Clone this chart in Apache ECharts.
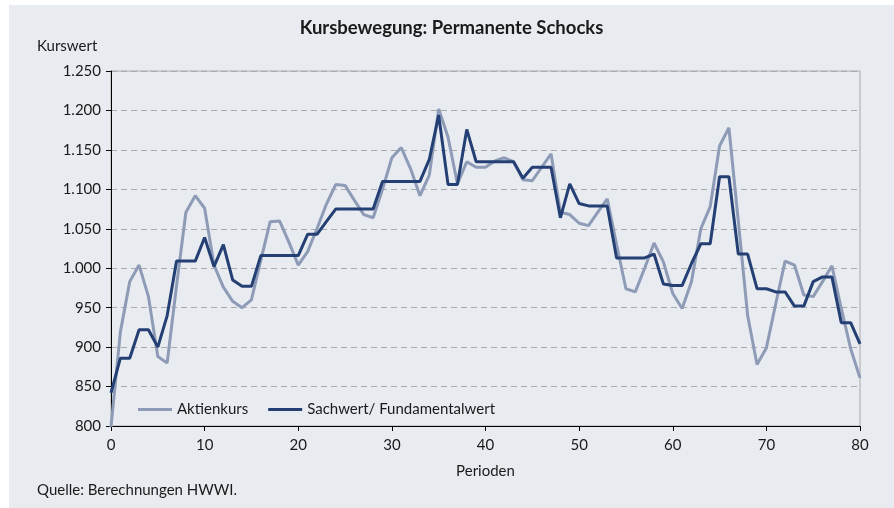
<!DOCTYPE html>
<html>
<head>
<meta charset="utf-8">
<script src="https://cdn.jsdelivr.net/npm/echarts@6/dist/echarts.min.js"></script>
<style>
  html, body { margin: 0; padding: 0; background: #ffffff; }
  #chart {
    position: absolute;
    left: 9px;
    top: 5px;
    width: 885px;
    height: 503px;
  }
</style>
</head>
<body>
<div id="chart"></div>
<script>
const periods = Array.from({ length: 81 }, (_, i) => i);

const aktienkurs = [
  799, 919, 983, 1004, 964, 888, 880, 978, 1071, 1092,
  1076, 1004, 976, 958, 950, 960, 1010, 1059, 1060, 1033,
  1004, 1021, 1050, 1081, 1106, 1105, 1086, 1068, 1064, 1100,
  1140, 1153, 1126, 1092, 1118, 1202, 1166, 1107, 1135, 1128,
  1128, 1136, 1140, 1135, 1112, 1111, 1128, 1145, 1071, 1068,
  1057, 1054, 1071, 1088, 1030, 974, 970, 1000, 1032, 1008,
  968, 949, 983, 1050, 1078, 1155, 1178, 1060, 940, 878,
  899, 955, 1009, 1004, 966, 964, 983, 1003, 949, 898,
  861,
];

const sachwert = [
  842, 886, 886, 922, 922, 900, 940, 1009, 1009, 1009,
  1039, 1002, 1030, 985, 977, 977, 1016, 1016, 1016, 1016,
  1016, 1043, 1043, 1059, 1075, 1075, 1075, 1075, 1075, 1110,
  1110, 1110, 1110, 1110, 1138, 1194, 1106, 1106, 1176, 1135,
  1135, 1135, 1135, 1135, 1114, 1128, 1128, 1128, 1064, 1107,
  1082, 1079, 1079, 1079, 1013, 1013, 1013, 1013, 1018, 980,
  978, 978, 1006, 1031, 1031, 1116, 1116, 1018, 1018, 974,
  974, 970, 970, 952, 952, 983, 989, 989, 931, 931,
  904,
];

const seriesNames = ['Aktienkurs', 'Sachwert/ Fundamentalwert'];

const font = 'Lato, "Open Sans", sans-serif';
const textColor = '#1a1a1a';

// 1250 -> "1.250"
const deNumber = (v) => String(v).replace(/\B(?=(\d{3})+(?!\d))/g, '.');

const myChart = echarts.init(document.getElementById('chart'));
myChart.setOption({
  backgroundColor: '#e8ebf0',
  animation: false,
  textStyle: { fontFamily: font, color: textColor },
  title: {
    left: 'center',
    top: 9,
    text: 'Kursbewegung: Permanente Schocks',
    textStyle: { fontFamily: font, fontSize: 18.5, fontWeight: 'bold', color: textColor },
  },
  graphic: [
    {
      type: 'text',
      left: 28,
      top: 34,
      style: { text: 'Kurswert', font: '15px ' + font, fill: textColor },
    },
    {
      type: 'text',
      left: 28,
      top: 478,
      style: { text: 'Quelle: Berechnungen HWWI.', font: '15px ' + font, fill: textColor },
    },
  ],
  legend: {
    left: 124,
    top: 392,
    itemWidth: 34,
    itemHeight: 3,
    itemGap: 20,
    icon: 'rect',
    textStyle: { fontFamily: font, fontSize: 15, color: textColor },
    data: seriesNames,
  },
  grid: {
    left: 102,
    right: 34,
    top: 66,
    bottom: 82,
    show: true,
    borderColor: '#a8a8a8',
    borderWidth: 1,
    backgroundColor: 'transparent',
  },
  xAxis: {
    type: 'value',
    min: 0,
    max: 80,
    interval: 10,
    name: 'Perioden',
    nameLocation: 'middle',
    nameGap: 38,
    nameTextStyle: { fontFamily: font, fontSize: 15, color: textColor },
    axisLine: { lineStyle: { color: '#000000', width: 1 } },
    axisTick: { show: true, length: 5, lineStyle: { color: '#000000' } },
    axisLabel: { fontFamily: font, fontSize: 15, color: textColor, margin: 12 },
    splitLine: { show: false },
  },
  yAxis: {
    type: 'value',
    min: 800,
    max: 1250,
    interval: 50,
    axisLine: { show: true, lineStyle: { color: '#000000', width: 1 } },
    axisTick: { show: true, length: 5, lineStyle: { color: '#000000' } },
    axisLabel: {
      fontFamily: font,
      fontSize: 15,
      color: textColor,
      margin: 10,
      formatter: deNumber,
    },
    splitLine: { lineStyle: { color: '#aaaaaa', type: [6, 4], width: 1 } },
  },
  series: [
    {
      name: seriesNames[0],
      type: 'line',
      showSymbol: false,
      symbol: 'none',
      lineStyle: { color: '#8e9bb6', width: 3 },
      itemStyle: { color: '#8e9bb6' },
      data: periods.map((p, i) => [p, aktienkurs[i]]),
    },
    {
      name: seriesNames[1],
      type: 'line',
      showSymbol: false,
      symbol: 'none',
      lineStyle: { color: '#243f73', width: 3 },
      itemStyle: { color: '#243f73' },
      data: periods.map((p, i) => [p, sachwert[i]]),
    },
  ],
});
</script>
</body>
</html>
